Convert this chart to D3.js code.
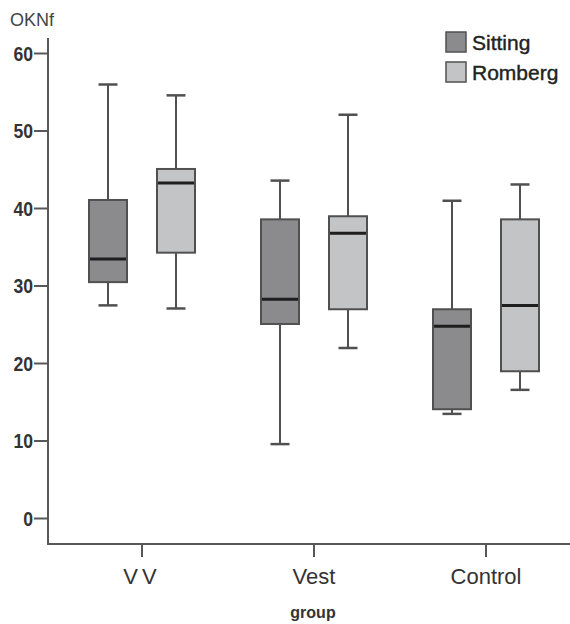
<!DOCTYPE html>
<html>
<head>
<meta charset="utf-8">
<script src="https://cdn.jsdelivr.net/npm/d3@7"></script>
<style>
  body { margin: 0; background: #fff; }
  svg { display: block; }
</style>
</head>
<body>
<div id="chart"></div>
<script>
// data
const groups = ["VV", "Vest", "Control"];
const series = ["Sitting", "Romberg"];
const yTicks = [0, 10, 20, 30, 40, 50, 60];

// [whisker low, q1, median, q3, whisker high]
const sitting = [
  [27.5, 30.5, 33.5, 41.1, 56.0],
  [9.6, 25.1, 28.3, 38.6, 43.6],
  [13.5, 14.1, 24.8, 27.0, 41.0]
];
const romberg = [
  [27.1, 34.3, 43.3, 45.1, 54.6],
  [22.0, 27.0, 36.8, 39.0, 52.1],
  [16.6, 19.0, 27.5, 38.6, 43.1]
];
const fills = ["#8b8b8d", "#c3c4c6"];

const W = 570, H = 624;
const svg = d3.select("#chart").append("svg")
    .attr("width", W).attr("height", H)
    .style("font-family", "'Liberation Sans', Arial, sans-serif");

const axX = 48, axBottom = 544;
const y = d3.scaleLinear([0, 60], [518.5, 53.5]);
const x = d3.scalePoint(groups, [142, 486]);
const off = d3.scalePoint(series, [-34, 34]);
const boxW = 38, capW = 19;

const axisCol = "#585858";

// y axis
const yg = svg.append("g").attr("transform", `translate(${axX},0)`);
yg.append("line").attr("x1", 0).attr("x2", 0).attr("y1", 38).attr("y2", axBottom)
    .attr("stroke", axisCol).attr("stroke-width", 2);
yg.selectAll(".yt").data(yTicks).join("line")
    .attr("x1", -14).attr("x2", 0)
    .attr("y1", d => y(d)).attr("y2", d => y(d))
    .attr("stroke", axisCol).attr("stroke-width", 2);
yg.selectAll(".yl").data(yTicks).join("text")
    .attr("transform", d => `translate(-15,${y(d)}) scale(0.88,1)`)
    .attr("dy", "0.36em")
    .attr("text-anchor", "end")
    .attr("font-size", 20).attr("font-weight", "bold").attr("fill", "#333")
    .text(d => d);

svg.append("text").attr("x", 10).attr("y", 26)
    .attr("font-size", 18).attr("fill", "#444").text("OKNf");

// x axis
const xg = svg.append("g").attr("transform", `translate(0,${axBottom})`);
xg.append("line").attr("x1", axX - 1).attr("x2", W).attr("y1", 0).attr("y2", 0)
    .attr("stroke", axisCol).attr("stroke-width", 2);
xg.selectAll(".xt").data(groups).join("line")
    .attr("x1", d => x(d)).attr("x2", d => x(d))
    .attr("y1", 0).attr("y2", 13)
    .attr("stroke", axisCol).attr("stroke-width", 2);
xg.selectAll(".xl").data(groups).join("text")
    .attr("x", d => x(d)).attr("y", 40)
    .attr("text-anchor", "middle")
    .attr("font-size", 22).attr("fill", "#333")
    .attr("letter-spacing", d => d === "VV" ? 4 : 0)
    .text(d => d);

svg.append("text").attr("x", 313).attr("y", 618)
    .attr("text-anchor", "middle")
    .attr("font-size", 16).attr("font-weight", "bold").attr("fill", "#333")
    .text("group");

// boxes
const boxCol = "#505050";
[sitting, romberg].forEach((data, si) => {
  const g = svg.append("g").attr("class", "box-" + series[si]);
  const cx = (d, i) => x(groups[i]) + off(series[si]);
  const item = g.selectAll("g").data(data).join("g");
  item.append("line")
      .attr("x1", cx).attr("x2", cx)
      .attr("y1", d => y(d[0])).attr("y2", d => y(d[1]))
      .attr("stroke", boxCol).attr("stroke-width", 2);
  item.append("line")
      .attr("x1", cx).attr("x2", cx)
      .attr("y1", d => y(d[3])).attr("y2", d => y(d[4]))
      .attr("stroke", boxCol).attr("stroke-width", 2);
  [0, 4].forEach(k => {
    item.append("line")
        .attr("x1", (d, i) => cx(d, i) - capW / 2).attr("x2", (d, i) => cx(d, i) + capW / 2)
        .attr("y1", d => y(d[k])).attr("y2", d => y(d[k]))
        .attr("stroke", boxCol).attr("stroke-width", 2.5);
  });
  item.append("rect")
      .attr("x", (d, i) => cx(d, i) - boxW / 2)
      .attr("y", d => y(d[3]))
      .attr("width", boxW)
      .attr("height", d => y(d[1]) - y(d[3]))
      .attr("fill", fills[si])
      .attr("stroke", boxCol).attr("stroke-width", 2);
  item.append("line")
      .attr("x1", (d, i) => cx(d, i) - boxW / 2 + 1).attr("x2", (d, i) => cx(d, i) + boxW / 2 - 1)
      .attr("y1", d => y(d[2])).attr("y2", d => y(d[2]))
      .attr("stroke", "#1e1e1e").attr("stroke-width", 3);
});

// legend
const lg = svg.append("g").attr("transform", "translate(446,32)");
const li = lg.selectAll("g").data(series).join("g")
    .attr("transform", (d, i) => `translate(0,${i * 30})`);
li.append("rect").attr("width", 20).attr("height", 20)
    .attr("fill", (d, i) => fills[i]).attr("stroke", boxCol).attr("stroke-width", 1.5);
li.append("text").attr("x", 26).attr("y", 10).attr("dy", "0.36em")
    .attr("font-size", 21).attr("fill", "#222")
    .attr("stroke", "#222").attr("stroke-width", 0.4)
    .text(d => d);
</script>
</body>
</html>
